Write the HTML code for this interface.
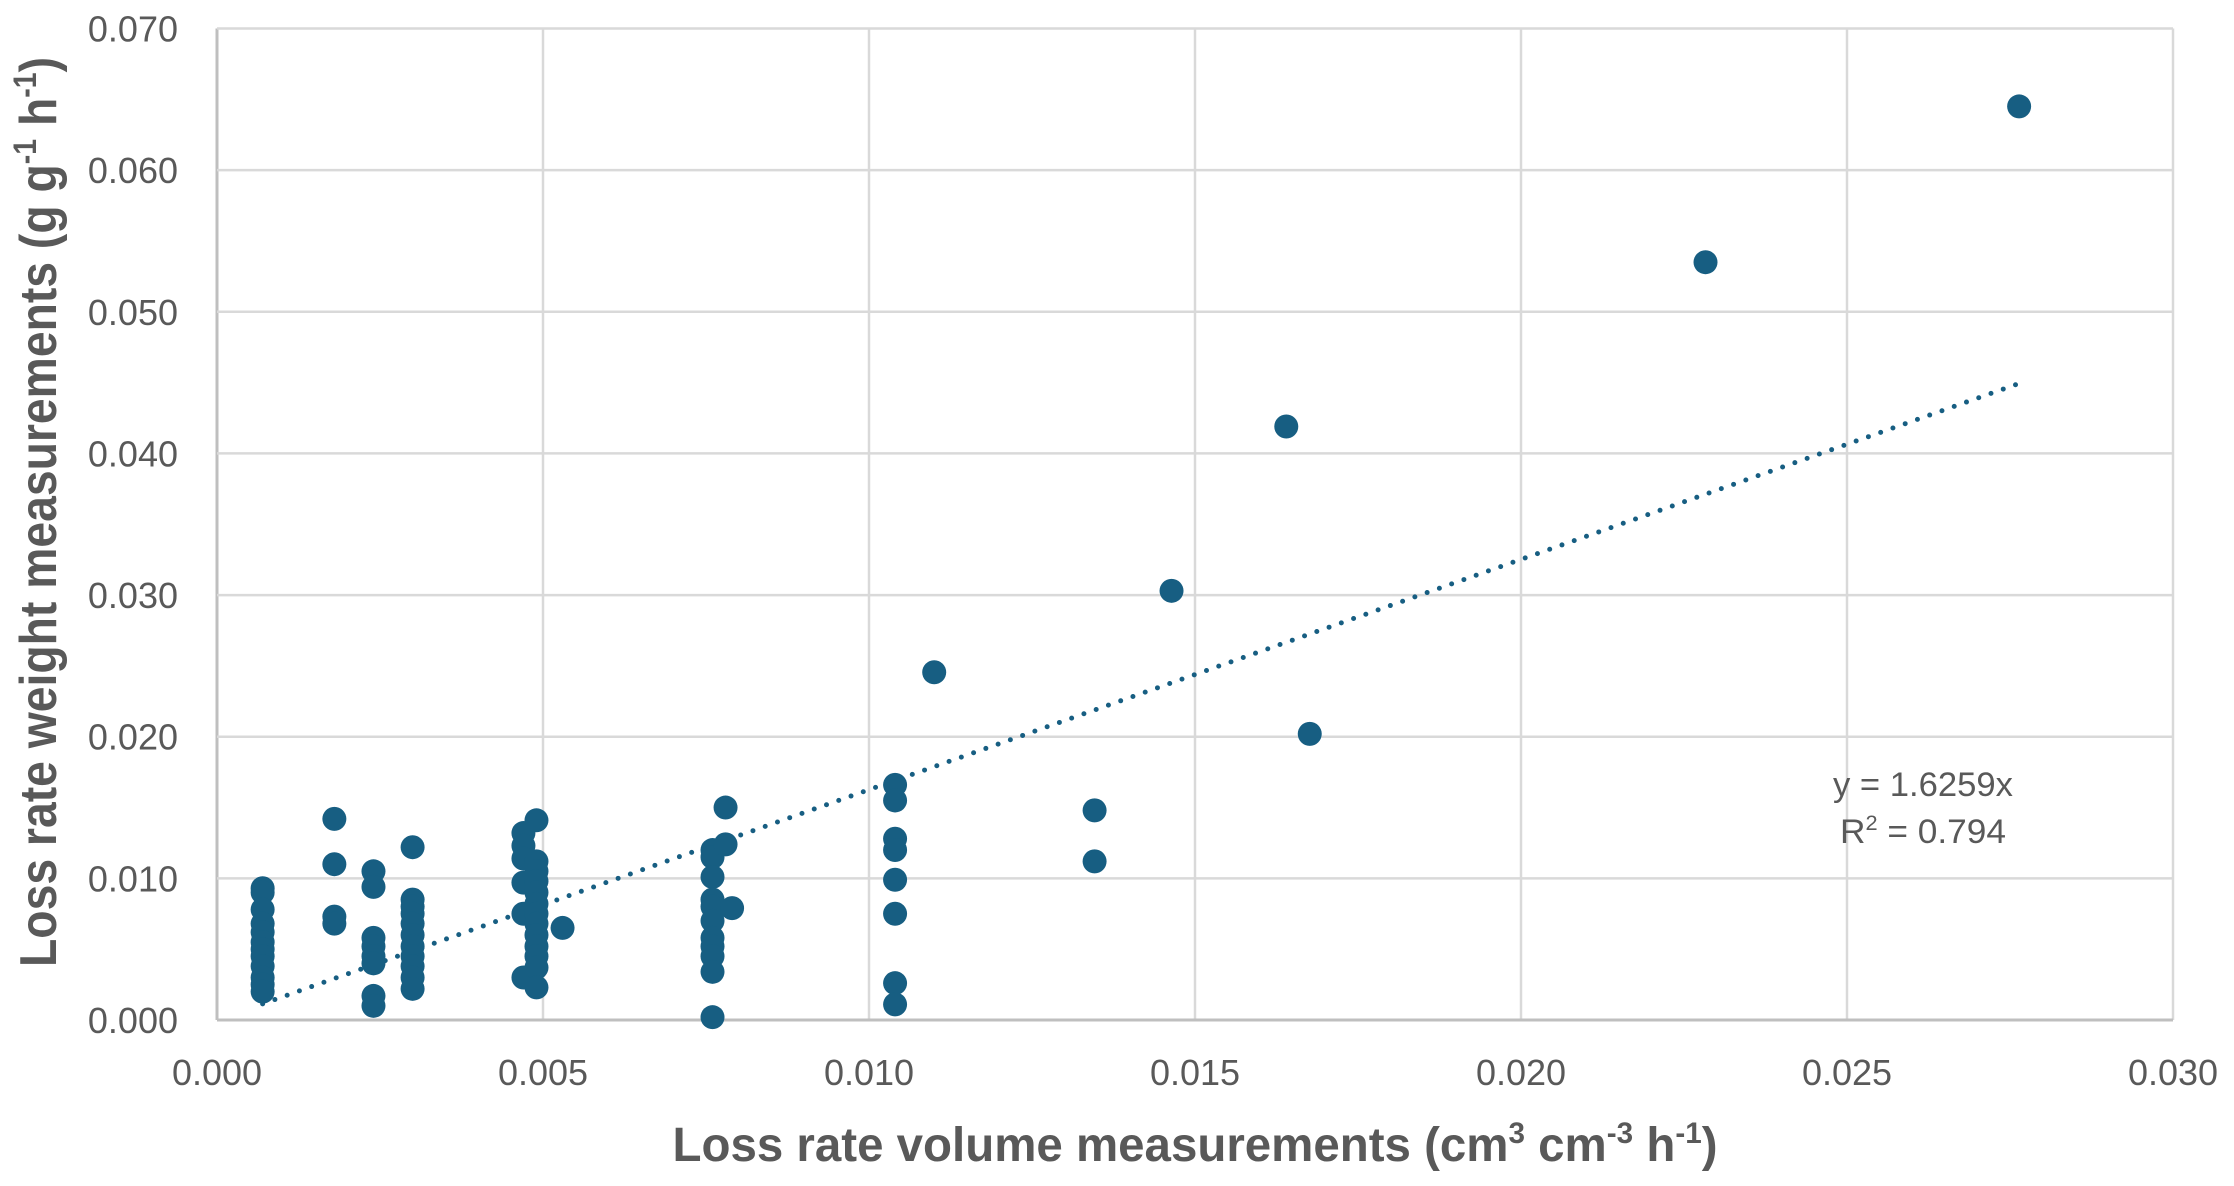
<!DOCTYPE html>
<html><head><meta charset="utf-8"><style>
html,body{margin:0;padding:0;background:#fff;}
svg{display:block;}
text{font-family:"Liberation Sans",sans-serif;}
</style></head><body>
<svg id="chart" width="2234" height="1186" viewBox="0 0 2234 1186" xmlns="http://www.w3.org/2000/svg">
<g id="grid"></g>
<g id="ticks"></g>
<g id="trend"></g>
<g id="points"></g>
<text x="1923" y="796" font-size="34" fill="#595959" text-anchor="middle" textLength="180" lengthAdjust="spacingAndGlyphs">y = 1.6259x</text>
<text x="1923" y="843" font-size="34" fill="#595959" text-anchor="middle" textLength="166" lengthAdjust="spacingAndGlyphs">R<tspan dy="-13" font-size="21">2</tspan><tspan dy="13"> = 0.794</tspan></text>
<text x="1195" y="1161" font-size="48" font-weight="bold" fill="#595959" text-anchor="middle" textLength="1045" lengthAdjust="spacingAndGlyphs">Loss rate volume measurements (cm<tspan dy="-18" font-size="30">3</tspan><tspan dy="18"> cm</tspan><tspan dy="-18" font-size="30">-3</tspan><tspan dy="18"> h</tspan><tspan dy="-18" font-size="30">-1</tspan><tspan dy="18">)</tspan></text>
<text transform="translate(56,512) rotate(-90)" font-size="52" font-weight="bold" fill="#595959" text-anchor="middle" textLength="910" lengthAdjust="spacingAndGlyphs">Loss rate weight measurements (g g<tspan dy="-20" font-size="32">-1</tspan><tspan dy="20"> h</tspan><tspan dy="-20" font-size="32">-1</tspan><tspan dy="20">)</tspan></text>
</svg>
<script>
const xTicks=[0,0.005,0.010,0.015,0.020,0.025,0.030];
const yTicks=[0,0.010,0.020,0.030,0.040,0.050,0.060,0.070];
const xVals=[0.0007,0.0007,0.0007,0.0007,0.0007,0.0007,0.0007,0.0007,0.0007,0.0007,0.0007,0.0007,
0.0018,0.0018,0.0018,0.0018,
0.0024,0.0024,0.0024,0.0024,0.0024,0.0024,0.0024,0.0024,
0.0030,0.0030,0.0030,0.0030,0.0030,0.0030,0.0030,0.0030,0.0030,0.0030,0.0030,
0.0047,0.0047,0.0047,0.0047,0.0047,0.0047,
0.0049,0.0049,0.0049,0.0049,0.0049,0.0049,0.0049,0.0049,0.0049,0.0049,0.0049,0.0049,0.0049,
0.0053,
0.0076,0.0076,0.0076,0.0076,0.0076,0.0076,0.0076,0.0076,0.0076,0.0076,0.0076,
0.0078,0.0078,0.0079,
0.0104,0.0104,0.0104,0.0104,0.0104,0.0104,0.0104,0.0104,
0.0110,0.01346,0.01346,0.01464,0.0164,0.01676,0.02283,0.02764];
const yVals=[0.0093,0.0090,0.0078,0.0068,0.0062,0.0055,0.0050,0.0045,0.0038,0.0030,0.0025,0.0020,
0.0142,0.0110,0.0073,0.0068,
0.0105,0.0094,0.0058,0.0052,0.0045,0.0040,0.0017,0.0010,
0.0122,0.0085,0.0080,0.0075,0.0068,0.0060,0.0052,0.0045,0.0038,0.0030,0.0022,
0.0132,0.0123,0.0114,0.0097,0.0075,0.0030,
0.0141,0.0112,0.0105,0.0098,0.0090,0.0082,0.0075,0.0068,0.0060,0.0052,0.0045,0.0037,0.0023,
0.0065,
0.0120,0.0115,0.0101,0.0085,0.0080,0.0070,0.0058,0.0052,0.0045,0.0034,0.0002,
0.0150,0.0124,0.0079,
0.0166,0.0155,0.0128,0.0120,0.0099,0.0075,0.0026,0.0011,
0.02455,0.0148,0.0112,0.0303,0.0419,0.0202,0.0535,0.0645];
const slope=[1.6259];
const trendRange=[0.0007,0.02764];
const X0=217,X1=2173,Y0=1020,Y1=28.5;
const sx=v=>X0+(v-0)/(0.030)*(X1-X0);
const sy=v=>Y0-(v-0)/(0.070)*(Y0-Y1);
const NS="http://www.w3.org/2000/svg";
const mk=(t,a,p)=>{const e=document.createElementNS(NS,t);for(const k in a)e.setAttribute(k,a[k]);p.appendChild(e);return e;};
const grid=document.getElementById('grid'),ticks=document.getElementById('ticks');
xTicks.forEach((v,i)=>{
 const l=mk('line',{x1:sx(v),x2:sx(v),y1:Y1,y2:Y0,stroke:i===0?'#bfbfbf':'#d9d9d9','stroke-width':i===0?3:2.5},grid);
 
 
 const t=mk('text',{x:sx(v),y:1085,'font-size':36,fill:'#595959','text-anchor':'middle'},ticks);
 t.textContent=v.toFixed(3);
 
 
});
yTicks.forEach((v,i)=>{
 const l=mk('line',{x1:X0,x2:X1,y1:sy(v),y2:sy(v),stroke:i===0?'#bfbfbf':'#d9d9d9','stroke-width':i===0?3:2.5},grid);
 
 
 const t=mk('text',{x:178,y:sy(v)+13,'font-size':36,fill:'#595959','text-anchor':'end'},ticks);
 t.textContent=v.toFixed(3);
 
 
});
const tl=mk('line',{x1:sx(trendRange[0]),y1:sy(trendRange[0]*slope[0]),x2:sx(trendRange[1]),y2:sy(trendRange[1]*slope[0]),stroke:'#175e82','stroke-width':5,'stroke-dasharray':'0 13','stroke-linecap':'round'},document.getElementById('trend'));


const pg=document.getElementById('points');
xVals.forEach((x,i)=>{
 const c=mk('circle',{cx:sx(x),cy:sy(yVals[i]),r:12,fill:'#175e82'},pg);
 
 
});
</script>
</body></html>
